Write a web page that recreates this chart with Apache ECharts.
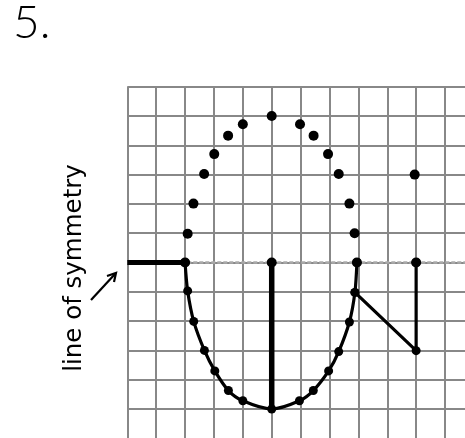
<!DOCTYPE html>
<html>
<head>
<meta charset="utf-8">
<script src="https://cdn.jsdelivr.net/npm/echarts@6/dist/echarts.min.js"></script>
<style>
  html, body { margin: 0; padding: 0; background: #fff; }
  #main { width: 465px; height: 438px; }
</style>
</head>
<body>
<div id="main"></div>
<script>
// points above the line of symmetry (dots only)
var upperDots = [[2.09, 0.98], [2.29, 2.01], [2.66, 3.02], [3.01, 3.70], [3.49, 4.33], [4.0, 4.72], [5.0, 5.0],
  [5.98, 4.72], [6.45, 4.33], [6.95, 3.70], [7.32, 3.02], [7.69, 2.01], [7.87, 1.0]];
var loneDot = [[9.95, 3.0]];
// dots sitting on the line of symmetry
var axisDots = [[2, 0], [5, 0], [7.95, 0], [10, 0]];
// the drawn half below the line
var lowerCurve = [[2, 0], [2.09, -0.97], [2.30, -2.01], [2.67, -3.0], [3.03, -3.70], [3.5, -4.37], [4.0, -4.72], [5.0, -5.0],
  [5.96, -4.72], [6.44, -4.37], [6.97, -3.70], [7.32, -3.04], [7.69, -2.03], [7.88, -1.02], [7.95, 0]];
var leftBar = [[0, 0], [2, 0]];
var stem = [[5, 0], [5, -5]];
var nShape = [[7.88, -1.02], [10, -3.01], [10, 0]];
var symLine = [[0, 0], [12, 0]];

var myChart = echarts.init(document.getElementById("main"));

var option = {
  animation: false,
  title: {
    text: "5.",
    left: 8,
    top: -5,
    textStyle: { fontFamily: "Lato", fontWeight: 300, fontSize: 46, color: "#000" }
  },
  grid: { left: 127.3, top: 86.7, width: 346.6, height: 380.9, outerBoundsMode: "none", containLabel: false },
  xAxis: {
    type: "value", min: 0, max: 12, interval: 1,
    axisLine: { show: false }, axisTick: { show: false }, axisLabel: { show: false },
    splitLine: { show: true, lineStyle: { color: "#888", width: 2 } }
  },
  yAxis: {
    type: "value", min: -7, max: 6, interval: 1,
    axisLine: { show: false }, axisTick: { show: false }, axisLabel: { show: false },
    splitLine: { show: true, lineStyle: { color: "#888", width: 2 } }
  },
  graphic: [
    {
      type: "text", x: 75, y: 268, rotation: Math.PI / 2,
      style: { text: "line of symmetry", fontFamily: "DejaVu Sans", fontSize: 24.5, fill: "#000", align: "center", verticalAlign: "middle" }
    },
    {
      type: "line", shape: { x1: 91, y1: 300, x2: 115, y2: 274 },
      style: { stroke: "#000", lineWidth: 2.2 }
    },
    {
      type: "polyline", shape: { points: [[107, 276], [116, 273], [114, 282]] },
      style: { stroke: "#000", lineWidth: 2.2, fill: null }
    }
  ],
  series: [
    {
      type: "line", data: symLine, symbol: "none",
      lineStyle: { color: "#aaa", width: 2.5, type: [4, 2] }
    },
    {
      type: "line", data: leftBar, symbol: "none",
      lineStyle: { color: "#000", width: 5 }
    },
    {
      type: "line", data: lowerCurve, smooth: 0.3, symbol: "circle", symbolSize: 9,
      itemStyle: { color: "#000", borderWidth: 0 }, lineStyle: { color: "#000", width: 3.2 }
    },
    {
      type: "line", data: stem, symbol: "none",
      lineStyle: { color: "#000", width: 5.5 }
    },
    {
      type: "line", data: nShape, symbol: "circle", symbolSize: 9,
      itemStyle: { color: "#000", borderWidth: 0 }, lineStyle: { color: "#000", width: 3.2 }
    },
    {
      type: "scatter", data: upperDots.concat(loneDot), symbolSize: 10,
      itemStyle: { color: "#000", opacity: 1 }
    },
    {
      type: "scatter", data: axisDots, symbolSize: 10, z: 10,
      itemStyle: { color: "#000", opacity: 1, borderWidth: 0 }
    }
  ]
};

option && myChart.setOption(option);
</script>
</body>
</html>
